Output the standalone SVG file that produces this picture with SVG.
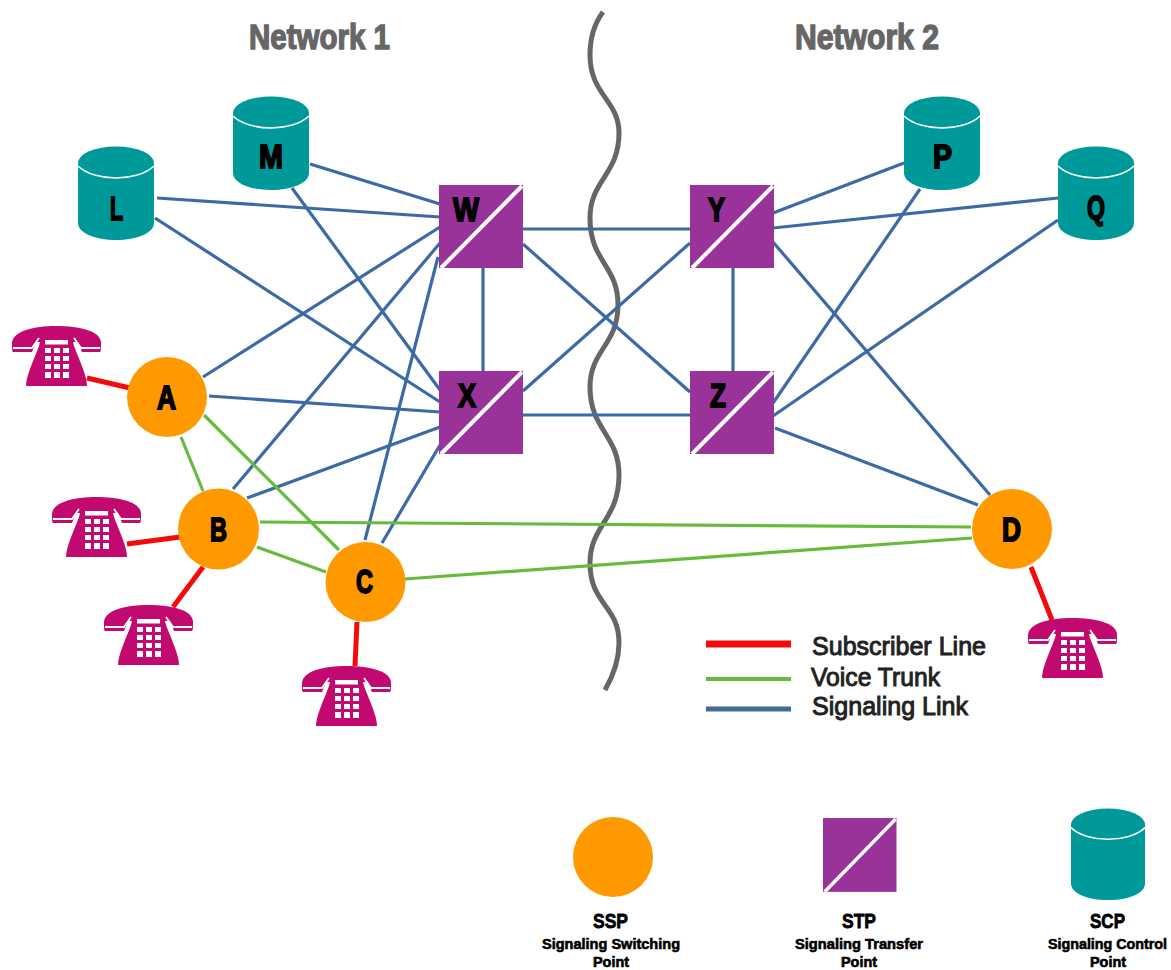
<svg xmlns="http://www.w3.org/2000/svg" xmlns:xlink="http://www.w3.org/1999/xlink" width="1171" height="970" viewBox="0 0 1171 970">
<style>
text{font-family:"Liberation Sans",Arial,sans-serif;font-weight:bold;fill:#000}
.lb{font-size:33px;stroke:#000;stroke-width:1.8px}
.net{font-size:35px;fill:#666;stroke:#666;stroke-width:1.4px}
.lg{font-size:26px;fill:#222;font-weight:normal;stroke:#222;stroke-width:1px}
.t1{font-size:21px;stroke:#000;stroke-width:.8px}
.t2{font-size:14.5px;stroke:#000;stroke-width:.6px}
.sig line,line.sig{stroke:#3c6aa6;stroke-width:3.2}
.voi line,line.voi{stroke:#66bb3c;stroke-width:3.2}
.sub line,line.sub{stroke:#f40a0a;stroke-width:5}
.ssp{fill:#ff9900}
.stp{fill:#993399}
.scp{fill:#009999}
</style>
<defs>
<g id="phone">
<path fill="#c2096f" d="M0,17C1,5 22,0 44,0C68,0 88,5 89,16C89,21 89,26 88,26L70,26L66,16L24,16L20,26L1,26C0,26 0,21 0,17Z"/>
<path fill="#c2096f" d="M14,60C14,50 21,36 27,20L29,12L60,12L62,20C68,36 75,50 75,60Z"/>
<path fill="none" stroke="#fff" stroke-width="1.8" d="M1,22H20L27,12M88,22H69L62,12"/>
<rect x="33" y="14" width="23" height="4.500" fill="#fff"/>
<g fill="#fff">
<rect x="33" y="22" width="6" height="5"/><rect x="42" y="22" width="6" height="5"/><rect x="51" y="22" width="6" height="5"/>
<rect x="33" y="30" width="6" height="5"/><rect x="42" y="30" width="6" height="5"/><rect x="51" y="30" width="6" height="5"/>
<rect x="33" y="38" width="6" height="5"/><rect x="42" y="38" width="6" height="5"/><rect x="51" y="38" width="6" height="5"/>
<rect x="33" y="46" width="6" height="6"/><rect x="42" y="46" width="6" height="6"/><rect x="51" y="46" width="6" height="6"/>
</g>
</g>
<g id="cyl">
<path class="scp" d="M0,17V77C0,87 17,94 38,94C59,94 76,87 76,77V17Z"/>
<ellipse class="scp" cx="38" cy="17" rx="38" ry="16.5"/>
<path fill="none" stroke="#fff" stroke-width="1.6" d="M0,20C8,28 24,32 38,32C52,32 68,28 76,20"/>
</g>
<g id="sq">
<rect class="stp" width="84" height="83"/>
<line x1="83" y1="1" x2="2" y2="83" stroke="#fff" stroke-width="4"/>
</g>
</defs>
<rect width="1171" height="970" fill="#fff"/>
<path id="boundary" fill="none" stroke="#666" stroke-width="5" d="M603,12C594,24 590,40 590,55C590,95 619,100 619,133C619,175 590,180 590,218C590,262 618,265 618,305C618,345 590,350 590,387C590,430 619,435 619,475C619,520 590,525 590,563C590,605 619,605 619,643C619,660 613,676 605,690"/>
<g id="connectors">
<g class="sig">
<line x1="157" y1="198" x2="440" y2="217"/>
<line x1="155" y1="218" x2="440" y2="402"/>
<line x1="310" y1="164" x2="440" y2="204"/>
<line x1="292" y1="188" x2="440" y2="390"/>
<line x1="203" y1="377" x2="440" y2="227"/>
<line x1="209" y1="396" x2="440" y2="412"/>
<line x1="233" y1="489" x2="440" y2="243"/>
<line x1="247" y1="498" x2="440" y2="427"/>
<line x1="365" y1="540" x2="438" y2="257"/>
<line x1="382" y1="543" x2="440" y2="445"/>
<line x1="523" y1="229" x2="690" y2="229"/>
<line x1="523" y1="415" x2="690" y2="415"/>
<line x1="483" y1="268" x2="483" y2="371"/>
<line x1="733" y1="268" x2="733" y2="371"/>
<line x1="523" y1="244" x2="690" y2="392"/>
<line x1="523" y1="391" x2="690" y2="243"/>
<line x1="773" y1="213" x2="904" y2="163"/>
<line x1="773" y1="228" x2="1058" y2="198"/>
<line x1="773" y1="242" x2="990" y2="495"/>
<line x1="773" y1="403" x2="920" y2="189"/>
<line x1="773" y1="416" x2="1058" y2="220"/>
<line x1="775" y1="428" x2="978" y2="505"/>
</g>
<g class="voi">
<line x1="181" y1="437" x2="203" y2="491"/>
<line x1="204" y1="415" x2="339" y2="550"/>
<line x1="257" y1="547" x2="326" y2="572"/>
<line x1="260" y1="522" x2="971" y2="527"/>
<line x1="405" y1="579" x2="972" y2="538"/>
</g>
<g class="sub">
<line x1="87" y1="378" x2="130" y2="388"/>
<line x1="127" y1="544" x2="180" y2="537"/>
<line x1="173" y1="607" x2="203" y2="567"/>
<line x1="355" y1="666" x2="357" y2="622"/>
<line x1="1031" y1="567" x2="1052" y2="620"/>
</g>
</g>
<g id="A"><circle class="ssp" cx="167" cy="397" r="40"/><text class="lb" x="157" y="409" textLength="19" lengthAdjust="spacingAndGlyphs">A</text></g>
<g id="B"><circle class="ssp" cx="218.500" cy="529" r="40.500"/><text class="lb" x="210" y="541" textLength="17" lengthAdjust="spacingAndGlyphs">B</text></g>
<g id="C"><circle class="ssp" cx="365.500" cy="582" r="40"/><text class="lb" x="356" y="593" textLength="17" lengthAdjust="spacingAndGlyphs">C</text></g>
<g id="D"><circle class="ssp" cx="1012" cy="529" r="40"/><text class="lb" x="1002" y="541" textLength="19" lengthAdjust="spacingAndGlyphs">D</text></g>
<g id="W"><use xlink:href="#sq" x="439" y="185"/><text class="lb" x="453" y="221" textLength="26" lengthAdjust="spacingAndGlyphs">W</text></g>
<g id="X"><use xlink:href="#sq" x="439" y="371"/><text class="lb" x="458" y="407" textLength="18" lengthAdjust="spacingAndGlyphs">X</text></g>
<g id="Y"><use xlink:href="#sq" x="690" y="185"/><text class="lb" x="708" y="221" textLength="17" lengthAdjust="spacingAndGlyphs">Y</text></g>
<g id="Z"><use xlink:href="#sq" x="690" y="371"/><text class="lb" x="710" y="407" textLength="16" lengthAdjust="spacingAndGlyphs">Z</text></g>
<g id="L"><use xlink:href="#cyl" x="78" y="146"/><text class="lb" x="110" y="220" textLength="13" lengthAdjust="spacingAndGlyphs">L</text></g>
<g id="M"><use xlink:href="#cyl" x="233" y="96"/><text class="lb" x="259" y="168" textLength="24" lengthAdjust="spacingAndGlyphs">M</text></g>
<g id="P"><use xlink:href="#cyl" x="904" y="96"/><text class="lb" x="933" y="168" textLength="19" lengthAdjust="spacingAndGlyphs">P</text></g>
<g id="Q"><use xlink:href="#cyl" x="1058" y="146"/><text class="lb" x="1087" y="219" textLength="18" lengthAdjust="spacingAndGlyphs">Q</text></g>
<g id="phones">
<use xlink:href="#phone" x="12" y="326"/>
<use xlink:href="#phone" x="52" y="497"/>
<use xlink:href="#phone" x="104" y="605"/>
<use xlink:href="#phone" x="302" y="666"/>
<use xlink:href="#phone" x="1028" y="618"/>
</g>
<text class="net" x="249" y="49" textLength="141" lengthAdjust="spacingAndGlyphs">Network 1</text>
<text class="net" x="795" y="49" textLength="144" lengthAdjust="spacingAndGlyphs">Network 2</text>
<g id="legend-lines">
<line class="sub" x1="706" y1="644" x2="791" y2="644" style="stroke-width:7"/>
<line class="voi" x1="706" y1="679" x2="791" y2="679" style="stroke-width:4"/>
<line class="sig" x1="706" y1="709" x2="791" y2="709" style="stroke:#3f6b96;stroke-width:5"/>
<text class="lg" x="812" y="655" textLength="174" lengthAdjust="spacingAndGlyphs">Subscriber Line</text>
<text class="lg" x="811" y="686" textLength="129" lengthAdjust="spacingAndGlyphs">Voice Trunk</text>
<text class="lg" x="812" y="715" textLength="156" lengthAdjust="spacingAndGlyphs">Signaling Link</text>
</g>
<g id="key-ssp">
<circle class="ssp" cx="613" cy="857" r="40"/>
<text class="t1" x="593" y="928" textLength="35" lengthAdjust="spacingAndGlyphs">SSP</text>
<text class="t2" x="542" y="949" textLength="138" lengthAdjust="spacingAndGlyphs">Signaling Switching</text>
<text class="t2" x="593" y="967" textLength="36" lengthAdjust="spacingAndGlyphs">Point</text>
</g>
<g id="key-stp">
<use xlink:href="#sq" transform="translate(823 818) scale(.875 .89)"/>
<text class="t1" x="842" y="928" textLength="34" lengthAdjust="spacingAndGlyphs">STP</text>
<text class="t2" x="795" y="949" textLength="128" lengthAdjust="spacingAndGlyphs">Signaling Transfer</text>
<text class="t2" x="841" y="967" textLength="36" lengthAdjust="spacingAndGlyphs">Point</text>
</g>
<g id="key-scp">
<use xlink:href="#cyl" transform="translate(1071 808) scale(.974 .979)"/>
<text class="t1" x="1090" y="928" textLength="35" lengthAdjust="spacingAndGlyphs">SCP</text>
<text class="t2" x="1048" y="949" textLength="119" lengthAdjust="spacingAndGlyphs">Signaling Control</text>
<text class="t2" x="1090" y="967" textLength="36" lengthAdjust="spacingAndGlyphs">Point</text>
</g>
</svg>
